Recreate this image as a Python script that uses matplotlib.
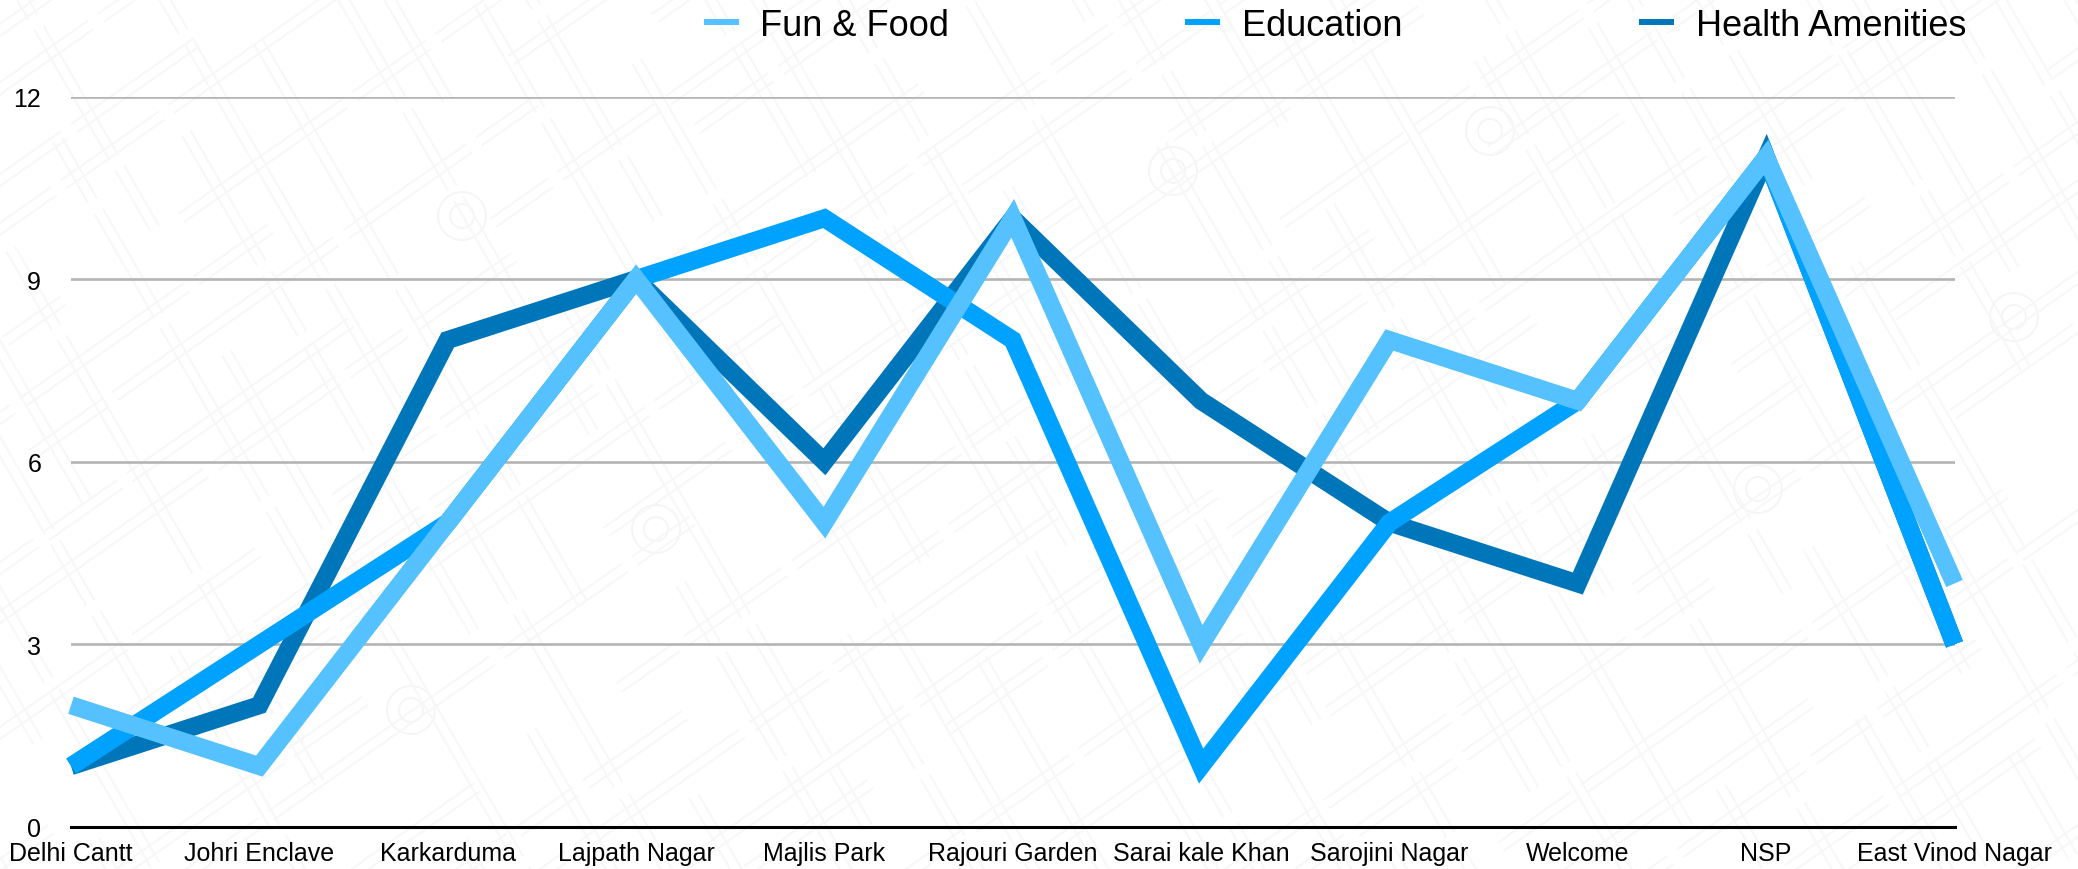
import numpy as np
import matplotlib
matplotlib.use("Agg")
import matplotlib.pyplot as plt
from matplotlib.collections import LineCollection
from matplotlib.lines import Line2D
from matplotlib.patches import Circle

plt.rcParams['font.family'] = ['Liberation Sans', 'DejaVu Sans']

categories = ["Delhi Cantt", "Johri Enclave", "Karkarduma", "Lajpath Nagar", "Majlis Park",
              "Rajouri Garden", "Sarai kale Khan", "Sarojini Nagar", "Welcome", "NSP", "East Vinod Nagar"]
fun_food = [2, 1, 5, 9, 5, 10, 3, 8, 7, 11, 4]
education = [1, 3, 5, 9, 10, 8, 1, 5, 7, 11, 3]
health = [1, 2, 8, 9, 6, 10, 7, 5, 4, 11, 3]
y_ticks = [0, 3, 6, 9, 12]

C_LIGHT, C_MID, C_DARK = "#56C1FF", "#00A2FF", "#0076BA"
W, H = 2078, 870
fig = plt.figure(figsize=(W / 100, H / 100), dpi=100, facecolor="white")

# faint street-map texture behind the chart
bg = fig.add_axes([0, 0, 1, 1], zorder=0)
bg.set_xlim(0, W); bg.set_ylim(H, 0); bg.axis("off")
ROAD = "#F7F7F7"
segs = []
a1 = np.deg2rad(-35); a2 = np.deg2rad(60)
d1 = np.array([np.cos(a1), np.sin(a1)]); d2 = np.array([np.cos(a2), np.sin(a2)])
n1 = np.array([-d1[1], d1[0]]); n2 = np.array([-d2[1], d2[0]])
centre = np.array([W / 2, H / 2])
spacing = [48, 75, 40, 95, 60]
seglen = [120, 200, 90, 270, 150, 70]
for d, n, off in ((d1, n1, 0), (d2, n2, 2)):
    pos = -1250
    i = off
    while pos < 1250:
        t = -1300 + (i * 47) % 120
        j = i
        while t < 1300:
            L = seglen[j % len(seglen)]
            if (j * 3 + i) % 5 != 0:
                for w in (0, 10):
                    p0 = centre + n * (pos + w) + d * t
                    p1 = centre + n * (pos + w) + d * (t + L)
                    segs.append([p0, p1])
            t += L + 12
            j += 1
        pos += spacing[i % len(spacing)]
        i += 1
bg.add_collection(LineCollection(segs, colors=ROAD, linewidths=1.4))
for cx, cy in [(462, 217), (1758, 490), (411, 711), (656, 530), (1173, 172), (1490, 132), (2014, 318)]:
    for r in (12, 24):
        bg.add_patch(Circle((cx, cy), r, fill=False, ec="#F5F5F5", lw=1.4))

# main chart
ax = fig.add_axes([71 / W, (H - 828) / H, (1954.5 - 71) / W, (828 - 97.5) / H], zorder=1)
ax.patch.set_alpha(0)
x = np.arange(len(categories))
ax.set_xlim(0, len(categories) - 1)
ax.set_ylim(0, 12)
ax.set_yticks(y_ticks)
ax.set_xticks(x)
ax.set_xticklabels(categories)
ax.tick_params(axis="both", length=0, labelsize=18, labelcolor="black")
ax.tick_params(axis="y", pad=21.5)
ax.tick_params(axis="x", pad=10)
ax.yaxis.grid(True, color="#B4B4B4", lw=1.9, zorder=1)
ax.set_axisbelow(True)
for s in ("left", "right", "top"):
    ax.spines[s].set_visible(False)
ax.spines["bottom"].set_linewidth(2.2)
ax.spines["bottom"].set_color("black")

style = dict(lw=13.0, solid_joinstyle="miter", solid_capstyle="butt", clip_on=False)
ax.plot(x, health, color=C_DARK, zorder=3, **style)
ax.plot(x, education, color=C_MID, zorder=4, **style)
ax.plot(x, fun_food, color=C_LIGHT, zorder=5, **style)

# legend
fs = 26
px = lambda v: v * 0.72 / fs
handles = [Line2D([], [], color=c, lw=4.3, solid_capstyle="butt") for c in (C_LIGHT, C_MID, C_DARK)]
leg = fig.legend(handles, ["Fun & Food", "Education", "Health Amenities"], ncol=3, frameon=False,
                 fontsize=fs, handlelength=px(35), handletextpad=px(22), columnspacing=px(236),
                 borderpad=0, borderaxespad=0, loc="center left",
                 bbox_to_anchor=(703.5 / W, 1 - 26 / H))

fig.savefig("out.png", dpi=100)
